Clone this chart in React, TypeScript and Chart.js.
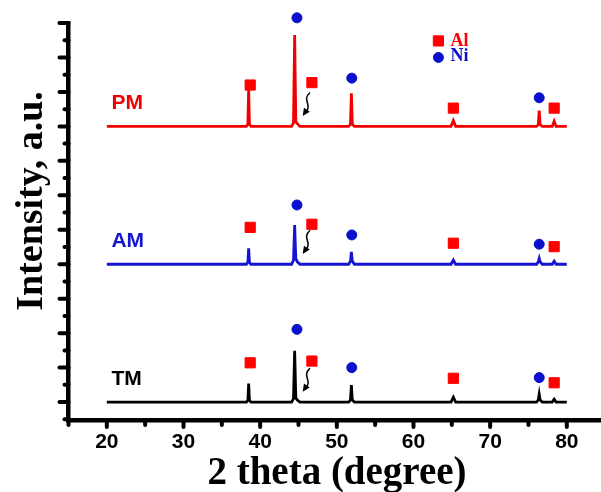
import React, { useEffect, useRef } from "react";
import { Chart, registerables } from "chart.js";

Chart.register(...registerables);

// ---- data ----
const twoTheta = [20, 38.2, 38.4, 38.5, 38.6, 38.8, 44.1, 44.35, 44.5, 44.65, 44.85, 45.2, 51.55, 51.78, 51.9, 52.02, 52.3, 64.9, 65.2, 65.5, 76.05, 76.28, 76.4, 76.52, 76.8, 78.1, 78.35, 78.6, 80];
const intensityPM = [0, 0, 0.06, 1.06, 0.06, 0, 0, 0.1, 2.65, 0.14, 0.08, 0, 0, 0.06, 0.96, 0.06, 0, 0, 0.17, 0, 0, 0.05, 0.46, 0.05, 0, 0, 0.15, 0, 0];
const intensityAM = [0, 0, 0.06, 0.46, 0.06, 0, 0, 0.12, 1.14, 0.16, 0.07, 0, 0, 0.09, 0.36, 0.09, 0, 0, 0.12, 0, 0, 0.07, 0.17, 0.07, 0, 0, 0.09, 0, 0];
const intensityTM = [0, 0, 0.05, 0.54, 0.05, 0, 0, 0.1, 1.49, 0.12, 0.06, 0, 0, 0.06, 0.49, 0.06, 0, 0, 0.14, 0, 0, 0.06, 0.23, 0.06, 0, 0, 0.08, 0, 0];

const sampleNames = ["PM", "AM", "TM"];
const sampleOffsets = [8, 4, 0];
const sampleColors = ["#f00000", "#1414d2", "#000000"];

// phase markers (2θ, height above each sample baseline)
const alX = [38.7, 46.75, 65.2, 78.35];
const alYPM = [1.2, 1.27, 0.53, 0.53];
const alYAM = [1.07, 1.16, 0.61, 0.51];
const alYTM = [1.14, 1.19, 0.69, 0.56];
const niX = [44.8, 51.95, 76.4];
const niYPM = [3.15, 1.4, 0.83];
const niYAM = [1.72, 0.85, 0.58];
const niYTM = [2.11, 1.0, 0.71];

// curly arrow (from, to) relative to baseline
const arrowFrom = [46.45, 0.97];
const arrowTo = [45.55, 0.3];

// legend
const legendNames = ["Al", "Ni"];
const legendX = 63.25;
const legendY = [10.48, 10.0];

const xTickLabels = [20, 30, 40, 50, 60, 70, 80];
const xMinorTicks = [15, 25, 35, 45, 55, 65, 75];
const yMajorTicks = [0, 1, 2, 3, 4, 5, 6, 7, 8, 9, 10, 11];
const yMinorTicks = [-0.5, 0.5, 1.5, 2.5, 3.5, 4.5, 5.5, 6.5, 7.5, 8.5, 9.5, 10.5];

const RED = "#ff0000";
const BLUE = "#0a10cc";

export default function App() {
  const ref = useRef<HTMLCanvasElement | null>(null);

  useEffect(() => {
    if (!ref.current) return;
    const intens = [intensityPM, intensityAM, intensityTM];
    const alYs = [alYPM, alYAM, alYTM];
    const niYs = [niYPM, niYAM, niYTM];

    const lineSets = sampleNames.map((name, i) => ({
      type: "scatter" as const,
      label: name,
      data: twoTheta.map((x, j) => ({ x, y: intens[i][j] + sampleOffsets[i] })),
      showLine: true,
      borderColor: sampleColors[i],
      borderWidth: 2.8,
      pointRadius: 0,
      tension: 0,
      order: 2,
    }));

    const alData: { x: number; y: number }[] = [];
    const niData: { x: number; y: number }[] = [];
    sampleOffsets.forEach((off, i) => {
      alX.forEach((x, j) => alData.push({ x, y: alYs[i][j] + off }));
      niX.forEach((x, j) => niData.push({ x, y: niYs[i][j] + off }));
    });

    const markerSets = [
      {
        type: "scatter" as const,
        label: "Al",
        data: alData.concat([{ x: legendX, y: legendY[0] }]),
        pointStyle: "rect",
        pointRadius: 7.2,
        borderWidth: 1,
        backgroundColor: RED,
        borderColor: RED,
        clip: false as any,
        order: 1,
      },
      {
        type: "scatter" as const,
        label: "Ni",
        data: niData.concat([{ x: legendX, y: legendY[1] }]),
        pointStyle: "circle",
        pointRadius: 5,
        borderWidth: 1,
        backgroundColor: BLUE,
        borderColor: BLUE,
        clip: false as any,
        order: 1,
      },
    ];

    const decor = {
      id: "decor",
      afterDatasetsDraw(chart: any) {
        const ctx: CanvasRenderingContext2D = chart.ctx;
        const xs = chart.scales.x;
        const ys = chart.scales.y;
        const { left, bottom } = chart.chartArea;
        ctx.save();
        // ticks
        ctx.strokeStyle = "#000";
        ctx.lineCap = "round";
        ctx.lineWidth = 4;
        const seg = (x1: number, y1: number, x2: number, y2: number) => {
          ctx.beginPath();
          ctx.moveTo(x1, y1);
          ctx.lineTo(x2, y2);
          ctx.stroke();
        };
        xTickLabels.forEach((v) => {
          const p = xs.getPixelForValue(v);
          seg(p, bottom, p, bottom + 7);
        });
        xMinorTicks.forEach((v) => {
          const p = xs.getPixelForValue(v);
          seg(p, bottom, p, bottom + 5);
        });
        yMajorTicks.forEach((v) => {
          const p = ys.getPixelForValue(v);
          seg(left, p, left - 9, p);
        });
        yMinorTicks.forEach((v) => {
          const p = ys.getPixelForValue(v);
          seg(left, p, left - 4, p);
        });

        // curly arrows
        ctx.lineCap = "round";
        ctx.lineWidth = 1.5;
        ctx.fillStyle = "#000";
        sampleOffsets.forEach((off) => {
          const x0 = xs.getPixelForValue(arrowFrom[0]);
          const y0 = ys.getPixelForValue(arrowFrom[1] + off);
          const x3 = xs.getPixelForValue(arrowTo[0]);
          const y3 = ys.getPixelForValue(arrowTo[1] + off);
          const c1x = x0 - 8, c1y = y0 + 7;
          const c2x = x3 + 10, c2y = y3 - 11;
          ctx.beginPath();
          ctx.moveTo(x0, y0);
          ctx.bezierCurveTo(c1x, c1y, c2x, c2y, x3 + 3, y3 - 4);
          ctx.stroke();
          const ang = Math.atan2(6, -4);
          const L = 7.5, W = 3.5;
          ctx.beginPath();
          ctx.moveTo(x3, y3);
          ctx.lineTo(x3 - L * Math.cos(ang) + W * Math.sin(ang), y3 - L * Math.sin(ang) - W * Math.cos(ang));
          ctx.lineTo(x3 - L * Math.cos(ang) - W * Math.sin(ang), y3 - L * Math.sin(ang) + W * Math.cos(ang));
          ctx.closePath();
          ctx.fill();
        });

        // sample labels
        ctx.font = 'bold 21px "Liberation Sans", Arial, sans-serif';
        ctx.textAlign = "left";
        ctx.textBaseline = "alphabetic";
        sampleNames.forEach((n, i) => {
          ctx.fillStyle = sampleColors[i];
          ctx.fillText(n, xs.getPixelForValue(20.6), ys.getPixelForValue(sampleOffsets[i] + 0.5));
        });

        // legend text
        ctx.font = 'bold 18px "Liberation Serif", "Times New Roman", serif';
        const lx = xs.getPixelForValue(legendX) + 12;
        ctx.fillStyle = RED;
        ctx.fillText(legendNames[0], lx, ys.getPixelForValue(legendY[0]) + 5);
        ctx.fillStyle = BLUE;
        ctx.fillText(legendNames[1], lx, ys.getPixelForValue(legendY[1]) + 4);

        // axis titles
        ctx.fillStyle = "#000";
        ctx.font = 'bold 39px "Liberation Serif", "Times New Roman", serif';
        ctx.textAlign = "center";
        ctx.fillText("2 theta (degree)", 337, 484);
        ctx.save();
        ctx.translate(42, 201);
        ctx.rotate(-Math.PI / 2);
        ctx.font = 'bold 38px "Liberation Serif", "Times New Roman", serif';
        ctx.fillText("Intensity, a.u.", 0, 0);
        ctx.restore();

        ctx.restore();
      },
    };

    const chart = new Chart(ref.current, {
      type: "scatter",
      data: { datasets: [...markerSets, ...lineSets] as any },
      options: {
        animation: false,
        responsive: false,
        layout: { autoPadding: false, padding: { top: 23, right: 0, left: 0, bottom: 0 } },
        plugins: { legend: { display: false }, tooltip: { enabled: false } },
        scales: {
          x: {
            type: "linear",
            min: 15,
            max: 84.46,
            afterFit: (s: any) => {
              s.height = 72;
              s.paddingLeft = 0;
              s.paddingRight = 0;
            },
            afterBuildTicks: (s: any) => {
              s.ticks = xTickLabels.map((v) => ({ value: v }));
            },
            grid: { display: false, drawTicks: false },
            border: { display: true, width: 4.5, color: "#000" },
            ticks: {
              padding: 10,
              color: "#000",
              font: { family: '"Liberation Sans", Arial, sans-serif', size: 21, weight: "bold" },
              callback: (v: any) => String(v),
            },
          },
          y: {
            type: "linear",
            min: -0.52,
            max: 11,
            afterFit: (s: any) => {
              s.width = 68.5;
              s.paddingTop = 0;
              s.paddingBottom = 0;
            },
            grid: { display: false, drawTicks: false },
            border: { display: true, width: 4.5, color: "#000" },
            ticks: { display: false },
          },
        },
      } as any,
      plugins: [decor],
    });
    return () => chart.destroy();
  }, []);

  return (
    <div style={{ position: "fixed", left: 0, top: 0, width: 601, height: 492, background: "#fff" }}>
      <canvas ref={ref} width={601} height={492} style={{ display: "block" }} />
    </div>
  );
}
